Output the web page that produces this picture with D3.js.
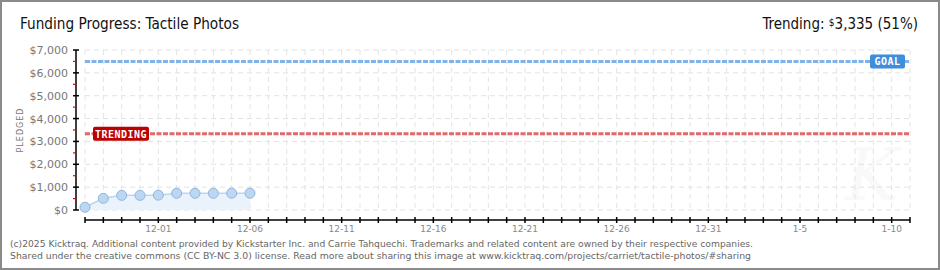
<!DOCTYPE html>
<html>
<head>
<meta charset="utf-8">
<script src="https://cdn.jsdelivr.net/npm/d3@7"></script>
<style>
  body { margin: 0; background: #fff; }
  svg { display: block; }
</style>
</head>
<body>
<svg id="chart" width="940" height="270"></svg>
<script>
// values
const dayDates = ["2024-11-27", "2024-11-28", "2024-11-29", "2024-11-30", "2024-12-01",
                  "2024-12-02", "2024-12-03", "2024-12-04", "2024-12-05", "2024-12-06"];
const pledged = [120, 510, 640, 640, 650, 730, 730, 730, 735, 735];
const goal = 6500;
const trending = 3335;
const yTicks = [0, 1000, 2000, 3000, 4000, 5000, 6000, 7000];
const labelDates = ["2024-12-01", "2024-12-06", "2024-12-11", "2024-12-16", "2024-12-21",
                    "2024-12-26", "2024-12-31", "2025-01-05", "2025-01-10"];
const labelText = ["12-01", "12-06", "12-11", "12-16", "12-21", "12-26", "12-31", "1-5", "1-10"];
const footer = [
    "(c)2025 Kicktraq. Additional content provided by Kickstarter Inc. and Carrie Tahquechi. Trademarks and related content are owned by their respective companies.",
    "Shared under the creative commons (CC BY-NC 3.0) license. Read more about sharing this image at www.kicktraq.com/projects/carriet/tactile-photos/#sharing"
];

const svg = d3.select("#chart");
const W = 940, H = 270;
const parse = d3.utcParse("%Y-%m-%d");

const x = d3.scaleUtc()
    .domain([parse("2024-11-27"), parse("2025-01-11")])
    .range([85, 910]);
const y = d3.scaleLinear()
    .domain([0, 7000])
    .range([210, 50]);

// outer frame
svg.append("rect")
    .attr("x", 1).attr("y", 1).attr("width", W - 2).attr("height", H - 2)
    .style("fill", "#fff").style("stroke", "#8a8a8a").style("stroke-width", 2);

// faint watermark
svg.append("text")
    .attr("x", 872).attr("y", 200)
    .style("text-anchor", "middle")
    .style("font-family", "DejaVu Serif")
    .style("font-style", "italic")
    .style("font-size", "72px")
    .style("fill", "#f9f9f9")
    .text("K");

// title
svg.append("text")
    .attr("x", 20).attr("y", 29)
    .attr("textLength", 219).attr("lengthAdjust", "spacingAndGlyphs")
    .style("font-family", "DejaVu Sans Condensed, DejaVu Sans")
    .style("font-size", "16px")
    .style("fill", "#111")
    .text("Funding Progress: Tactile Photos");

const tr = svg.append("text")
    .attr("x", 918).attr("y", 29)
    .style("text-anchor", "end")
    .style("font-family", "DejaVu Sans Condensed, DejaVu Sans")
    .style("font-size", "15px")
    .style("fill", "#111");
tr.append("tspan").text("Trending:  ");
tr.append("tspan").style("font-size", "10px").attr("dy", -3).text("$");
tr.append("tspan").attr("dy", 3).text(d3.format(",")(trending) + " (" + Math.round(trending / goal * 100) + "%)");

// grid
const allDays = d3.utcDay.range(x.domain()[0], d3.utcDay.offset(x.domain()[1], 1));
svg.selectAll("vgrid")
    .data(allDays).enter()
    .append("line")
    .attr("x1", d => x(d)).attr("x2", d => x(d))
    .attr("y1", y(7000)).attr("y2", y(0))
    .style("stroke", "#e4e4e4").style("stroke-dasharray", "5,4");
svg.selectAll("hgrid")
    .data(yTicks).enter()
    .append("line")
    .attr("x1", 85).attr("x2", 910)
    .attr("y1", d => y(d)).attr("y2", d => y(d))
    .style("stroke", "#e2e2e2").style("stroke-dasharray", "5,4");

// area + line + points
const pts = dayDates.map((d, i) => ({date: parse(d), v: pledged[i]}));
svg.append("path")
    .datum(pts)
    .attr("d", d3.area().x(d => x(d.date)).y0(y(0)).y1(d => y(d.v)))
    .style("fill", "#eaf3fc");
svg.append("path")
    .datum(pts)
    .attr("d", d3.line().x(d => x(d.date)).y(d => y(d.v)))
    .style("fill", "none").style("stroke", "#b9d6f3").style("stroke-width", 1.5);
svg.selectAll("pt")
    .data(pts).enter()
    .append("circle")
    .attr("cx", d => x(d.date)).attr("cy", d => y(d.v))
    .attr("r", 5)
    .style("fill", "#bcd7f4").style("stroke", "#93b4d9").style("stroke-width", 1);

// goal and trending lines
svg.append("line")
    .attr("x1", 85).attr("x2", 910).attr("y1", y(goal)).attr("y2", y(goal))
    .style("stroke", "#7fb3ea").style("stroke-width", 3).style("stroke-dasharray", "5,1.5");
svg.append("line")
    .attr("x1", 85).attr("x2", 910).attr("y1", y(trending)).attr("y2", y(trending))
    .style("stroke", "#e06a6a").style("stroke-width", 3).style("stroke-dasharray", "5,1.5");

const badge = (bx, w, yv, fill, label) => {
    svg.append("rect")
        .attr("x", bx).attr("y", y(yv) - 7).attr("width", w).attr("height", 14)
        .attr("rx", 2)
        .style("fill", fill);
    svg.append("text")
        .attr("x", bx + w / 2).attr("y", y(yv) + 4)
        .style("text-anchor", "middle")
        .style("font-family", "DejaVu Sans Mono")
        .style("font-size", "10px")
        .style("font-weight", "bold")
        .style("letter-spacing", "0.5px")
        .style("fill", "#fff")
        .text(label);
};
badge(870, 35, goal, "#3f8ddc", "GOAL");
badge(93, 56, trending, "#bb0000", "TRENDING");

// y axis
svg.append("line")
    .attr("x1", 76).attr("x2", 76).attr("y1", y(7000)).attr("y2", y(0))
    .style("stroke", "#000").style("stroke-width", 1.5);
svg.selectAll("ytick")
    .data(yTicks).enter()
    .append("line")
    .attr("x1", 73).attr("x2", 79)
    .attr("y1", d => y(d)).attr("y2", d => y(d))
    .style("stroke", "#000").style("stroke-width", 1.5);
svg.selectAll("yminor")
    .data(yTicks.slice(0, -1).map(d => d + 500)).enter()
    .append("line")
    .attr("x1", 73).attr("x2", 76)
    .attr("y1", d => y(d)).attr("y2", d => y(d))
    .style("stroke", "#e00").style("stroke-width", 1.2);
svg.selectAll("ylabel")
    .data(yTicks).enter()
    .append("text")
    .attr("x", 68).attr("y", d => y(d) + 4)
    .style("text-anchor", "end")
    .style("font-family", "DejaVu Sans")
    .style("font-size", "11px")
    .style("fill", "#777")
    .text(d => "$" + d3.format(",")(d));

svg.append("text")
    .attr("transform", "translate(23,130) rotate(-90)")
    .style("text-anchor", "middle")
    .style("font-family", "DejaVu Sans")
    .style("font-size", "8px")
    .style("letter-spacing", "1px")
    .style("fill", "#777")
    .text("PLEDGED");

// x axis
svg.append("line")
    .attr("x1", 85).attr("x2", 910).attr("y1", 220).attr("y2", 220)
    .style("stroke", "#000").style("stroke-width", 1.5);
svg.selectAll("xtick")
    .data(allDays).enter()
    .append("line")
    .attr("x1", d => x(d)).attr("x2", d => x(d))
    .attr("y1", 217).attr("y2", 223)
    .style("stroke", "#000").style("stroke-width", 1.5);
svg.selectAll("xlabel")
    .data(labelDates).enter()
    .append("text")
    .attr("x", d => x(parse(d)))
    .attr("y", 232)
    .style("text-anchor", "middle")
    .style("font-family", "DejaVu Sans")
    .style("font-size", "9px")
    .style("fill", "#888")
    .text((d, i) => labelText[i]);

// footer
svg.selectAll("foot")
    .data(footer).enter()
    .append("text")
    .attr("x", 10)
    .attr("y", (d, i) => 247 + i * 12)
    .attr("textLength", (d, i) => i === 0 ? 743 : 741)
    .attr("lengthAdjust", "spacingAndGlyphs")
    .style("font-family", "DejaVu Sans")
    .style("font-size", "9.5px")
    .style("fill", "#666")
    .text(d => d);
</script>
</body>
</html>
